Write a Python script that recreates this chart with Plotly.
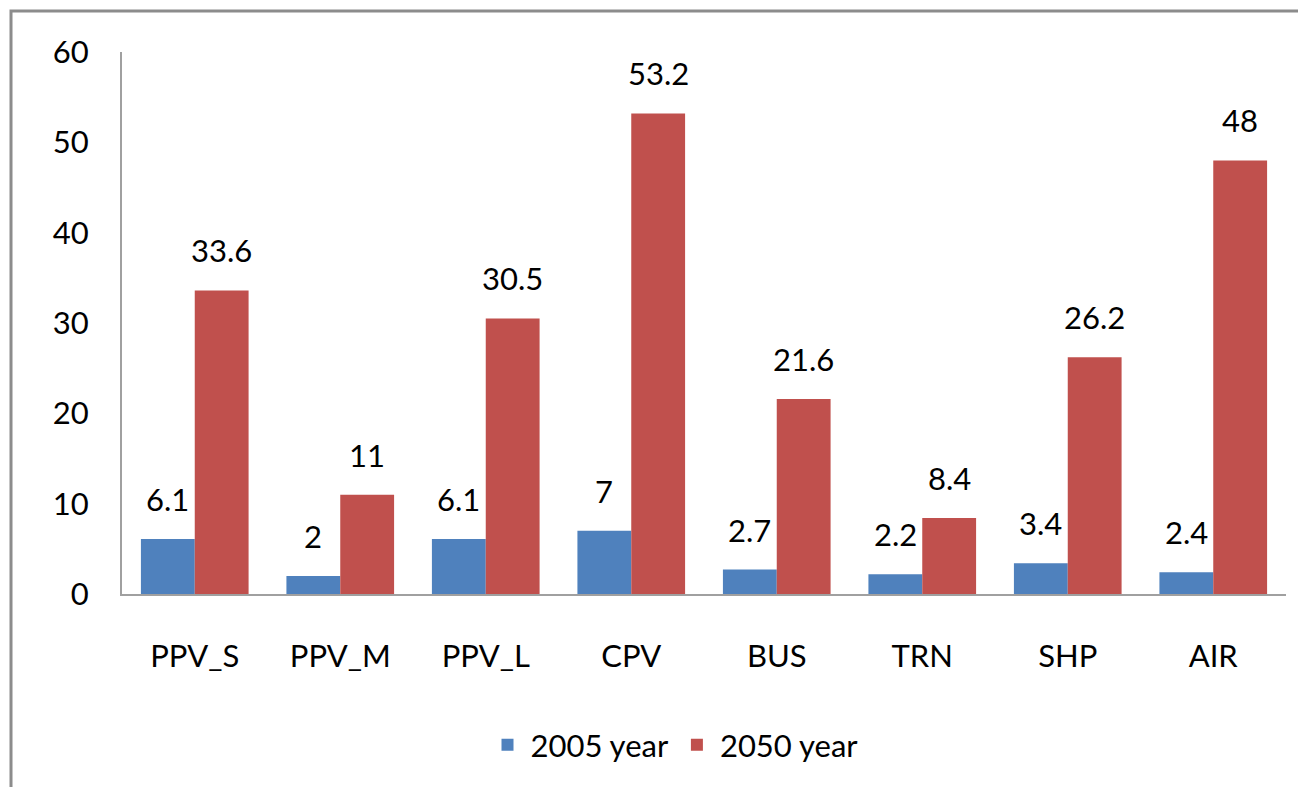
import plotly.graph_objects as go

categories = ["PPV_S", "PPV_M", "PPV_L", "CPV", "BUS", "TRN", "SHP", "AIR"]
y2005 = [6.1, 2, 6.1, 7, 2.7, 2.2, 3.4, 2.4]
y2050 = [33.6, 11, 30.5, 53.2, 21.6, 8.4, 26.2, 48]
series_names = ["2005 year", "2050 year"]
colors = ["#4F81BD", "#C0504D"]
yticks = [0, 10, 20, 30, 40, 50, 60]

# the page body has an 8px margin; figure coordinates = reference - 8
OFF = 8
W, H = 1306 - 2 * OFF, 795 - 2 * OFF
L = 122 - OFF
T = 52 - OFF
R = W - (1286 - OFF)
B = H - (594 - OFF)
FONT = "Lato"
FS = 31

fig = go.Figure()
for name, vals, c in zip(series_names, [y2005, y2050], colors):
    fig.add_trace(go.Bar(x=categories, y=vals, name=name, marker=dict(color=c, line=dict(width=0))))

plot_w = W - L - R
plot_h = H - T - B
cat_w = plot_w / len(categories)
bargap = 0.26
bar_w = cat_w * (1 - bargap) / 2

annotations = []
for i, vals in enumerate([y2005, y2050]):
    shift = (-0.5 + i) * bar_w
    for cat, v in zip(categories, vals):
        annotations.append(dict(
            x=cat, y=v, xref="x", yref="y", text=f"{v:g}", showarrow=False,
            xshift=shift, yshift=19, yanchor="bottom",
            font=dict(family=FONT, size=FS, color="#000000")))

fig.update_layout(
    width=W, height=H,
    margin=dict(l=L, r=R, t=T, b=B),
    paper_bgcolor="white", plot_bgcolor="white",
    barmode="group", bargap=bargap, bargroupgap=0,
    font=dict(family=FONT, size=FS, color="#000000"),
    showlegend=True,
    legend=dict(orientation="h", x=(674 - 122) / plot_w, xanchor="center",
                y=-(745 - 594) / plot_h, yanchor="middle",
                font=dict(family=FONT, size=FS), itemwidth=36,
                bgcolor="rgba(0,0,0,0)"),
    annotations=annotations,
    shapes=[dict(type="rect", xref="paper", yref="paper",
                 x0=(11 - 122) / plot_w, x1=(1306 + 20 - 122) / plot_w,
                 y0=-(795 + 20 - 594) / plot_h, y1=(594 - 11) / plot_h,
                 line=dict(color="#8C8C8C", width=3), fillcolor="rgba(0,0,0,0)", layer="below")],
    xaxis=dict(showline=True, linecolor="#A0A0A0", linewidth=2, ticks="",
               showgrid=False, ticklabelstandoff=34,
               tickfont=dict(family=FONT, size=FS)),
    yaxis=dict(range=[0, 60], tickvals=yticks, showline=True, linecolor="#A0A0A0", linewidth=2,
               ticks="", showgrid=False, zeroline=False, ticklabelstandoff=25,
               tickfont=dict(family=FONT, size=FS)),
)

fig.write_html("out.html")
